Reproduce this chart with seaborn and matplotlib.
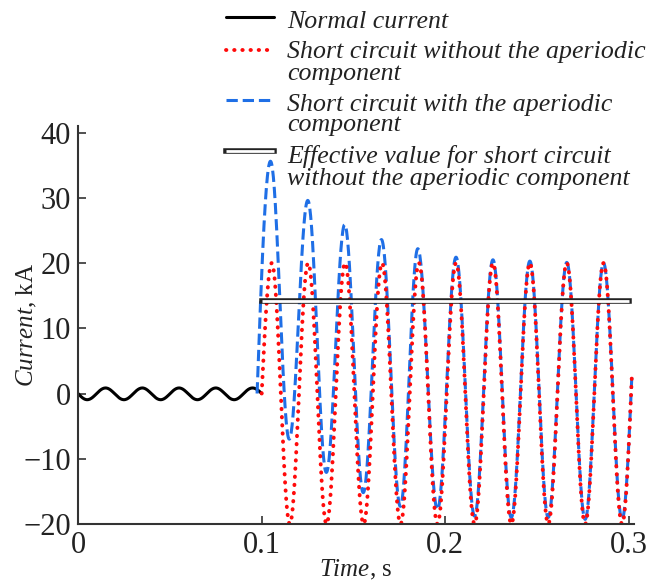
import numpy as np
import pandas as pd
import matplotlib
matplotlib.use("Agg")
import matplotlib.pyplot as plt
import seaborn as sns
from matplotlib.lines import Line2D

# extremos: tiempo (s) y corriente (kA)
normal_t = [0.0, 0.005, 0.015, 0.025, 0.035, 0.045, 0.055, 0.065, 0.075, 0.085, 0.095, 0.1]
normal_i = [0.0, -0.95, 0.85, -0.95, 0.85, -0.95, 0.85, -0.95, 0.85, -0.95, 0.85, 0.0]

sc_t = [0.1, 0.1055, 0.1153, 0.1253, 0.1353, 0.1454, 0.1555, 0.1655, 0.1756, 0.1856, 0.1957,
        0.2058, 0.2159, 0.2259, 0.2359, 0.246, 0.256, 0.2661, 0.2761, 0.2861, 0.2962, 0.3015]
sc_i = [0.0, 20, -20, 20, -20, 20, -20, 20, -20, 20, -20,
        20, -20, 20, -20, 20, -20, 20, -20, 20, -20, 2.5]

ap_t = [0.0975, 0.1048, 0.115, 0.1251, 0.1352, 0.1452, 0.1553, 0.1652, 0.1755, 0.185, 0.1957,
        0.2058, 0.2159, 0.2259, 0.2359, 0.246, 0.256, 0.2661, 0.2761, 0.2861, 0.2962, 0.3015]
ap_i = [0.0, 35.6, -7.0, 29.6, -12.1, 25.9, -15.2, 23.6, -17.3, 22.2, -17.8,
        20.9, -18.8, 20.5, -19.0, 20.3, -19.0, 20.1, -19.3, 20.0, -19.3, 2.5]

eff_t = [0.1, 0.3]
eff_i = [14.14, 14.14]

# leyenda: cada entrada con sus lineas de texto
labels = [['Normal current'],
          ['Short circuit without the aperiodic', 'component'],
          ['Short circuit with the aperiodic', 'component'],
          ['Effective value for short circuit', 'without the aperiodic component']]


def wave(tk, ik, n=40):
    # forma senoidal entre extremos consecutivos
    ts, vs = [], []
    last = len(tk) - 2
    for k in range(len(tk) - 1):
        s = np.linspace(0, 1, n)
        if k == 0:
            w = np.sin(np.pi / 2 * s)
        elif k == last:
            w = 1 - np.cos(np.pi / 2 * s)
        else:
            w = (1 - np.cos(np.pi * s)) / 2
        ts.extend(tk[k] + (tk[k + 1] - tk[k]) * s)
        vs.extend(ik[k] + (ik[k + 1] - ik[k]) * w)
    return pd.DataFrame({'t': ts, 'i': vs})


sns.set_style("ticks")
plt.rcParams['font.family'] = ['Liberation Serif', 'DejaVu Serif']
plt.rcParams['mathtext.fontset'] = 'custom'
plt.rcParams['mathtext.rm'] = 'Liberation Serif'
plt.rcParams['mathtext.it'] = 'Liberation Serif:italic'

W, H = 647, 583
fig, ax = plt.subplots(figsize=(W / 100, H / 100), dpi=100)
fig.subplots_adjust(left=78 / W, right=634 / W, bottom=59 / H, top=457 / H)

blue = '#1f6fe6'
red = '#ff0a0a'
dots = (0, (0.1, 2.0))

df_n = wave(normal_t, normal_i)
df_sc = wave(sc_t, sc_i)
df_ap = wave(ap_t, ap_i)

sns.lineplot(data=df_n, x='t', y='i', ax=ax, color='black', lw=2.2, sort=False, estimator=None)
sns.lineplot(data=df_ap, x='t', y='i', ax=ax, color=blue, lw=2.2, linestyle='--', sort=False, estimator=None)
ax.plot(df_sc['t'], df_sc['i'], color=red, lw=2.8, linestyle=dots, dash_capstyle='round')
ax.plot(eff_t, eff_i, color='#222222', lw=4.0, solid_capstyle='projecting')
ax.plot(eff_t, eff_i, color='white', lw=2.0, solid_capstyle='butt')

ax.set_xlim(0, 0.3027)
ax.set_ylim(-20, 41)
ax.set_xticks([0, 0.1, 0.2, 0.3])
ax.set_xticklabels(['0', '0.1', '0.2', '0.3'])
ax.set_yticks([-20, -10, 0, 10, 20, 30, 40])
ax.set_yticklabels(['\u221220', '\u221210', '0', '10', '20', '30', '40'])
ax.tick_params(direction='in', length=6, width=1.2, labelsize=22, pad=5, colors='#333333')
ax.tick_params(labelcolor='#222222')
sns.despine(ax=ax)
for sp in ['left', 'bottom']:
    ax.spines[sp].set_linewidth(1.5)
    ax.spines[sp].set_color('#333333')

ax.set_xlabel(r'$\mathit{Time}$, s', fontsize=18, color='#222222')
ax.set_ylabel(r'$\mathit{Current}$, kA', fontsize=18, color='#222222')
ax.xaxis.set_label_coords(0.5, -0.085)
ax.yaxis.set_label_coords(-0.07, 0.5)

# leyenda manual: el simbolo va a la altura de la primera linea
handles = [dict(color='black', lw=2.2),
           dict(color=red, lw=2.8, linestyle=dots, dash_capstyle='round'),
           dict(color=blue, lw=2.2, linestyle='--'),
           None]
handle_y = [17, 50, 100, 151]
baselines = [[28, None], [58, 80], [111.5, 131.5], [163, 185]]
for k, lines in enumerate(labels):
    yf = 1 - handle_y[k] / H
    xs = [226 / W, 274 / W]
    if handles[k] is None:
        fig.add_artist(Line2D(xs, [yf, yf], transform=fig.transFigure, color='#222222',
                              lw=4.0, solid_capstyle='projecting'))
        fig.add_artist(Line2D(xs, [yf, yf], transform=fig.transFigure, color='white',
                              lw=2.0, solid_capstyle='butt'))
    else:
        fig.add_artist(Line2D(xs, [yf, yf], transform=fig.transFigure, **handles[k]))
    for j, line in enumerate(lines):
        fig.text(287 / W, 1 - baselines[k][j] / H, line, fontsize=18.6, style='italic',
                 color='#222222', va='baseline', ha='left')

fig.savefig('out.png', dpi=100)
